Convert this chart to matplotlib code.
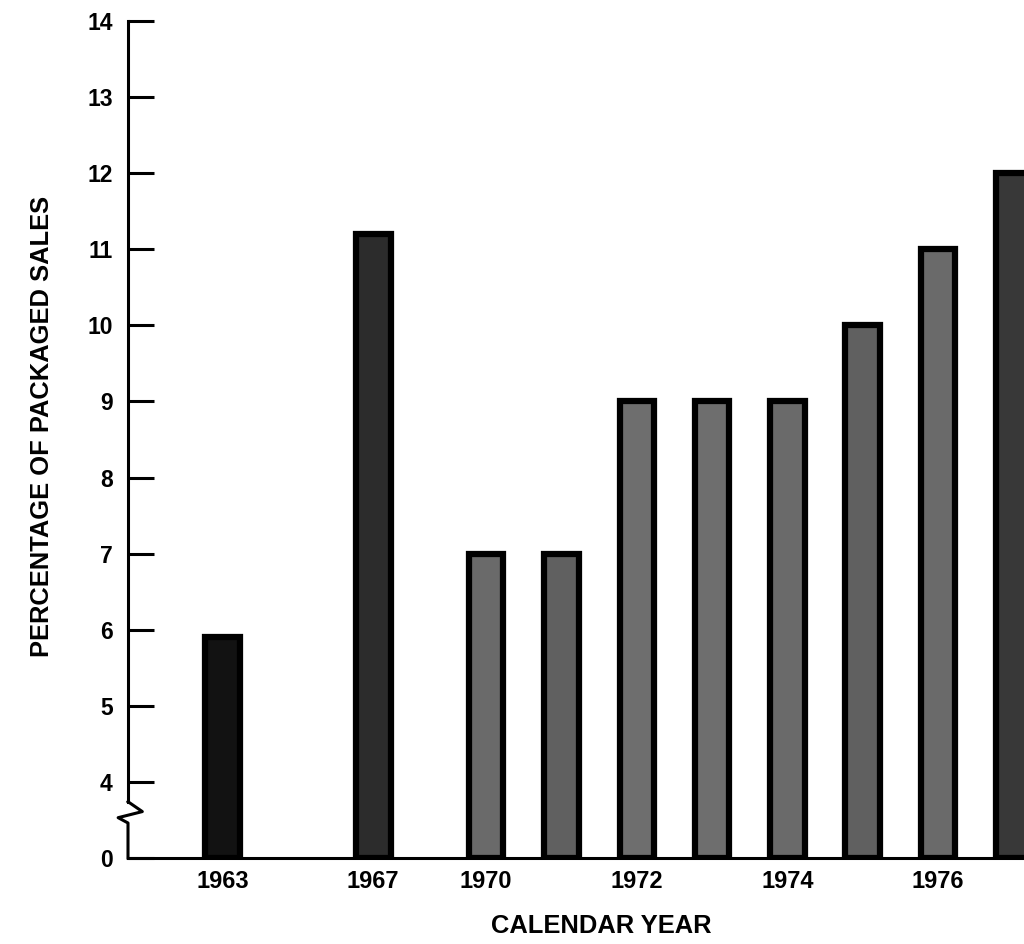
import numpy as np
import matplotlib
matplotlib.use("Agg")
import matplotlib.pyplot as plt

# data
years = ["1963", "1967", "1970", "1971", "1972", "1973", "1974", "1975", "1976", "1977"]
pct = [5.9, 11.2, 7.0, 7.0, 9.0, 9.0, 9.0, 10.0, 11.0, 12.0]
labeled_years = ["1963", "1967", "1970", "1972", "1974", "1976"]
yticks = [0, 4, 5, 6, 7, 8, 9, 10, 11, 12, 13, 14]

# layout: gap (in slots) before each bar, the axis is not linear in time
gaps = [0, 2, 1.5, 1, 1, 1, 1, 1, 1, 1]
xpos = np.cumsum(gaps)
# scanned stipple -> flat greys, some bars print darker than others
fills = ["#121212", "#2c2c2c", "#6a6a6a", "#606060", "#6e6e6e",
         "#6e6e6e", "#6a6a6a", "#606060", "#6a6a6a", "#383838"]

plt.rcParams["font.family"] = ["Liberation Sans", "DejaVu Sans"]
plt.rcParams["font.weight"] = "bold"

# broken y axis: 0..4 squeezed into one unit
def fwd(v):
    v = np.asarray(v, dtype=float)
    return np.where(v >= 4, v, 3 + v / 4.0)

def inv(u):
    u = np.asarray(u, dtype=float)
    return np.where(u >= 4, u, 4.0 * (u - 3))

fig = plt.figure(figsize=(10.24, 9.44), dpi=100)
ax = fig.add_axes([128 / 1024, 86 / 944, (1024 - 128) / 1024, (858 - 21) / 944])
ax.set_yscale("function", functions=(fwd, inv))

ax.bar(xpos, pct, width=0.46, color=fills, edgecolor="black", linewidth=4.5, zorder=2)

ax.set_ylim(0, 14)
ax.set_xlim(-1.255, 10.64)

ax.set_yticks(yticks)
ax.set_yticklabels([str(t) for t in yticks], fontsize=16.5, fontweight="bold")
ax.tick_params(axis="y", direction="in", length=19, width=2.2, pad=11)

tick_x = [xpos[years.index(y)] for y in labeled_years]
ax.set_xticks(tick_x)
ax.set_xticklabels(labeled_years, fontsize=17, fontweight="bold")
ax.tick_params(axis="x", length=0, pad=9)

for s in ["top", "right", "left"]:
    ax.spines[s].set_visible(False)
ax.spines["bottom"].set_linewidth(2.2)

# left axis line with the break zigzag
tr = ax.get_yaxis_transform()
ax.plot([0, 0], [14, 2.96], color="black", lw=2.2, transform=tr, clip_on=False, zorder=3)
ax.plot([0, 0.016, -0.011, 0, 0], [2.96, 2.44, 2.12, 1.84, 0],
        color="black", lw=2.2, transform=tr, clip_on=False, zorder=3)

fig.text(42 / 1024, 1 - 426 / 944, "PERCENTAGE OF PACKAGED SALES", rotation=90,
         ha="center", va="center", fontsize=18.4, fontweight="bold")
fig.text(601 / 1024, 1 - 926 / 944, "CALENDAR YEAR", ha="center", va="center",
         fontsize=18.4, fontweight="bold")

fig.savefig("out.png", dpi=100)
